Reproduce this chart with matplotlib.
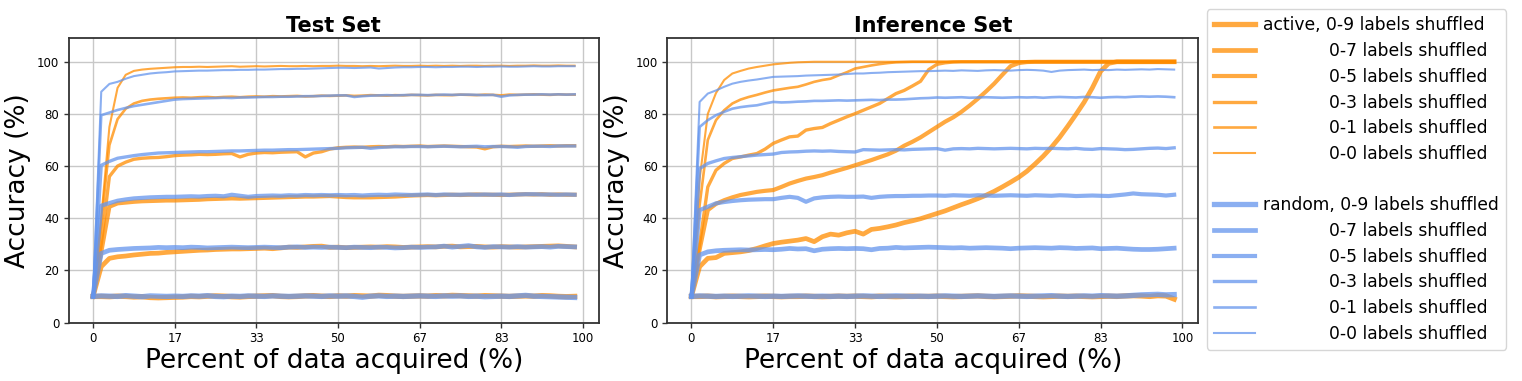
import matplotlib
matplotlib.use('Agg')
import matplotlib.pyplot as plt
from matplotlib.lines import Line2D

# ---------------- data ----------------
tick_pos = [0, 10, 20, 30, 40, 50, 60]
tick_labels = ['0', '17', '33', '50', '67', '83', '100']
shuffles = ['0-9', '0-7', '0-5', '0-3', '0-1', '0-0']
panel_titles = ['Test Set', 'Inference Set']

# Test set, active
test_active_09 = [10, 10, 9.9, 10.1, 10, 9.8, 9.9, 9.6, 9.5, 9.6, 9.7, 9.8, 10, 9.9, 10.1, 10.2, 10.1, 9.9, 9.8, 10,
                  10.1, 10.2, 10.3, 10, 9.9, 10, 10.2, 10.3, 10.1, 10, 10.2, 10.1, 10.3, 10.2, 10.1, 10.4, 10.3, 10.1, 10, 10.1,
                  10.2, 10.1, 10.3, 10.2, 10.4, 10.3, 10.2, 10.1, 10.3, 10.2, 10.1, 10, 10.1, 10.2, 10.1, 10.3, 10.2, 10, 9.9, 10]
test_active_07 = [10, 21.4, 24.6, 25.2, 25.5, 25.9, 26.2, 26.5, 26.6, 26.9, 27.1, 27.3, 27.5, 27.7, 27.8, 28, 28.1, 28.2, 28.2, 28.3,
                  28.4, 28.5, 28.3, 28.6, 28.9, 28.8, 29, 29.2, 29.3, 28.8, 28.9, 28.7, 28.8, 28.9, 29, 28.9, 29.1, 29, 28.8, 28.9,
                  29, 29.1, 29, 29.2, 29.3, 29, 29.1, 29.2, 29, 28.9, 29.1, 29, 28.9, 29, 29.1, 29.2, 29.3, 29.4, 29.2, 29]
test_active_05 = [10, 27, 44.4, 45.7, 46, 46.3, 46.5, 46.6, 46.7, 46.8, 46.8, 46.9, 47, 47.1, 47.3, 47.4, 47.5, 47.6, 47.5, 47.6,
                  47.7, 47.8, 47.9, 48, 48.1, 48.2, 48.3, 48.3, 48.4, 48.5, 48.3, 48.1, 48, 48, 48, 48.1, 48.2, 48.3, 48.5, 48.7,
                  48.8, 48.9, 48.8, 48.9, 49, 48.9, 49, 49.1, 49, 49, 48.9, 49, 49.1, 49.2, 49.1, 49.2, 49, 49.1, 49, 49]
test_active_03 = [10, 30, 56, 60, 61.5, 62.6, 63, 63.2, 63.3, 63.6, 64, 64.2, 64.3, 64.5, 64.4, 64.5, 64.7, 64.8, 63.5, 64.5,
                  65, 65.2, 65.1, 65.3, 65.4, 65.5, 63.5, 65, 65.5, 66.5, 67, 67.2, 67.3, 67.2, 67.4, 67.5, 67.4, 67.6, 67.5, 67.6,
                  67.7, 67.5, 67.6, 67.7, 67.6, 67.5, 67.4, 67.3, 66.6, 67.4, 67.6, 67.5, 67.6, 67.7, 67.6, 67.7, 67.8, 67.7, 67.8, 67.8]
test_active_01 = [10, 38, 68, 78, 82, 84, 85, 85.5, 85.8, 86, 86.2, 86.3, 86.2, 86.4, 86.5, 86.3, 86.5, 86.6, 86.4, 86.6,
                  86.7, 86.6, 86.8, 86.7, 86.8, 86.9, 86.7, 86.8, 87, 86.9, 87, 87.1, 86.9, 87, 87.2, 87.1, 87, 87.2, 87.1, 87.3,
                  87.2, 87.1, 87.3, 87.2, 87.2, 87.4, 87.3, 87.2, 87.4, 87.3, 87.1, 87.4, 87.3, 87.4, 87.5, 87.4, 87.3, 87.5, 87.4, 87.4]
test_active_00 = [10, 40, 75, 90, 95, 96.5, 97, 97.3, 97.5, 97.7, 97.9, 98, 98, 98.1, 98, 98.1, 98.2, 98.3, 98.1, 98.2,
                  98.3, 98.2, 98.3, 98.4, 98.3, 98.3, 98.4, 98.3, 98.4, 98.4, 98.5, 98.4, 98.4, 98.3, 98.4, 98.3, 98.4, 98.5, 98.4, 98.4,
                  98.5, 98.4, 98.5, 98.4, 98.5, 98.4, 98.5, 98.5, 98.4, 98.5, 98.5, 98.4, 98.5, 98.5, 98.6, 98.5, 98.5, 98.6, 98.5, 98.5]

# Test set, random
test_random_09 = [10, 10.2, 10.1, 10, 10.3, 10.1, 9.9, 10.2, 10.1, 10, 10.1, 10, 10.2, 10.1, 10.3, 10, 9.9, 10.1, 10, 10.2,
                  10.1, 10, 10.2, 10.1, 10, 10.1, 10.2, 10.1, 10, 10.2, 10.1, 10.2, 10, 9.7, 10.1, 10.2, 10, 10.1, 10, 10.1,
                  10.2, 10.1, 10, 10.2, 10.1, 10.2, 10, 10.1, 9.9, 10, 10.1, 10, 10.2, 10.4, 10.1, 10, 9.9, 9.8, 9.7, 9.6]
test_random_07 = [10, 26.5, 27.7, 28, 28.2, 28.4, 28.5, 28.6, 28.8, 28.7, 28.8, 28.7, 28.9, 28.8, 28.6, 28.7, 28.8, 28.9, 28.8, 28.7,
                  28.8, 28.9, 28.8, 28.7, 28.9, 29, 28.8, 28.9, 28.8, 28.9, 28.8, 28.7, 28.9, 28.8, 28.7, 28.9, 28.8, 28.6, 28.7, 28.9,
                  28.8, 28.9, 29, 29.3, 28.9, 29.2, 29.5, 29, 28.8, 29.1, 29, 28.9, 29.1, 28.9, 29, 29.1, 28.9, 29.2, 29.1, 29]
test_random_05 = [10, 44.8, 45.8, 46.7, 47.2, 47.6, 47.8, 48, 48.1, 48.2, 48.2, 48.3, 48.4, 48.3, 48.5, 48.6, 48.4, 49, 48.6, 48.2,
                  48.5, 48.6, 48.7, 48.6, 48.8, 48.7, 48.9, 48.8, 48.9, 48.8, 48.9, 48.8, 48.9, 48.7, 48.9, 49, 48.9, 49.1, 49, 48.9,
                  49, 49.1, 48.9, 49.1, 49, 49, 49.1, 49, 49.1, 49, 49.1, 48.9, 49.1, 49.2, 49.2, 49.1, 49.1, 49, 49.1, 49]
test_random_03 = [10, 60.3, 61.8, 63, 63.5, 64, 64.4, 64.7, 65, 65.1, 65.2, 65.3, 65.4, 65.5, 65.5, 65.6, 65.7, 65.8, 65.8, 65.9,
                  66, 66.1, 66.1, 66.2, 66.3, 66.3, 66.4, 66.5, 66.6, 66.7, 66.8, 67, 67.1, 67.2, 66.8, 67.1, 67.3, 67.4, 67.4, 67.5,
                  67.5, 67.4, 67.5, 67.6, 67.5, 67.4, 67.5, 67.6, 67.4, 67.5, 67.5, 67.4, 67.2, 67.5, 67.6, 67.6, 67.5, 67.7, 67.7, 67.7]
test_random_01 = [10, 79.5, 80.5, 81.5, 82.3, 83, 83.5, 84, 84.5, 85, 85.5, 85.7, 85.8, 85.9, 86, 86.1, 86.2, 86.1, 86.3, 86.3,
                  86.4, 86.5, 86.5, 86.6, 86.6, 86.7, 86.8, 86.8, 86.9, 87, 87.1, 87.1, 86.5, 86.8, 87, 87.1, 87.2, 87.1, 87.2, 87.3,
                  87.3, 87.2, 87.3, 87.4, 87.3, 87.4, 87.4, 87.3, 87.2, 87.3, 86.6, 87.1, 87.3, 87.4, 87.4, 87.5, 87.4, 87.5, 87.4, 87.5]
test_random_00 = [10, 88.5, 91.5, 92.3, 93.5, 94.5, 95, 95.5, 95.8, 96, 96.3, 96.4, 96.5, 96.6, 96.6, 96.7, 96.8, 96.8, 96.9, 96.9,
                  97, 97, 97.1, 97.2, 97.2, 97.3, 97.3, 97.4, 97.5, 97.6, 97.7, 97.7, 97.6, 97.7, 97.8, 97.4, 97.6, 97.8, 97.9, 97.9,
                  98, 98, 97.9, 98, 98, 98.1, 98.1, 98, 98.1, 98.1, 98.2, 98.1, 98.1, 98.2, 98.3, 98.2, 98.2, 98.3, 98.3, 98.3]

# Inference set, active
inf_active_09 = [10, 10, 10.1, 9.9, 10, 10.1, 10, 9.9, 10, 10.1, 10, 9.9, 10, 10, 10.1, 10, 9.9, 10, 10.1, 10,
                 10.1, 10, 9.9, 10.1, 10, 9.9, 10, 10.1, 10, 10, 10.1, 10, 9.9, 10, 10.1, 10.2, 10, 9.9, 10, 10.1,
                 10.2, 10.1, 10, 9.9, 10, 10.1, 10, 10.1, 10, 9.9, 10, 10.1, 10, 10.2, 10.3, 10.2, 10, 10.3, 10.2, 9.0]
inf_active_07 = [10, 21.4, 24.6, 24.9, 26.5, 26.8, 27.1, 27.6, 28.4, 29.4, 30.3, 30.8, 31.2, 31.6, 32.2, 31, 32.9, 33.9, 33.5, 34.4,
                 35, 33.9, 35.7, 36.1, 36.7, 37.4, 38.3, 39, 39.8, 40.8, 41.8, 42.8, 44, 45.2, 46.3, 47.5, 48.8, 50.3, 52, 53.8,
                 55.7, 58, 60.8, 63.8, 67.2, 71, 75.3, 79.8, 84.5, 90, 96.3, 99.4, 100, 100, 100, 100, 100, 100, 100, 100]
inf_active_05 = [10, 28, 43.1, 45.5, 46.9, 48, 48.9, 49.5, 50.1, 50.5, 50.8, 52, 53.3, 54.3, 55.2, 55.8, 56.5, 57.5, 58.4, 59.3,
                 60.3, 61.3, 62.3, 63.4, 64.5, 65.9, 67.8, 69.3, 71, 73, 75, 77, 78.7, 80.8, 83.2, 85.8, 88.6, 91.6, 95, 98.3,
                 99.5, 99.9, 100, 100, 100, 100, 100, 100, 100, 100, 100, 100, 100, 100, 100, 100, 100, 100, 100, 100]
inf_active_03 = [10, 30, 52, 58.4, 61, 62.9, 63.5, 64.2, 64.8, 66.5, 68.7, 70, 71.2, 71.5, 73.8, 74.4, 74.8, 76.3, 77.6, 78.9,
                 80.1, 81.4, 82.7, 84, 85.9, 87.8, 89, 90.7, 92.5, 97, 99, 99.6, 99.9, 100, 100, 100, 100, 100, 100, 100,
                 100, 100, 100, 100, 100, 100, 100, 100, 100, 100, 100, 100, 100, 100, 100, 100, 100, 100, 100, 100]
inf_active_01 = [10, 45, 70, 77.6, 81.4, 84, 85.5, 86.5, 87.3, 88.2, 89, 89.5, 90, 90.4, 91.3, 92.3, 93, 93.5, 94.8, 96,
                 97.4, 98, 98.6, 99.1, 99.5, 99.8, 99.9, 100, 100, 100, 100, 100, 100, 100, 100, 100, 100, 100, 100, 100,
                 100, 100, 100, 100, 100, 100, 100, 100, 100, 100, 100, 100, 100, 100, 100, 100, 100, 100, 100, 100]
inf_active_00 = [10, 55, 80, 88, 93, 95.5, 96.5, 97.4, 98, 98.5, 99, 99.3, 99.6, 99.8, 99.9, 100, 100, 100, 100, 100,
                 100, 100, 100, 100, 100, 100, 100, 100, 100, 100, 100, 100, 100, 100, 100, 100, 100, 100, 100, 100,
                 100, 100, 100, 100, 100, 100, 100, 100, 100, 100, 100, 100, 100, 100, 100, 100, 100, 100, 100, 100]

# Inference set, random
inf_random_09 = [10, 10.2, 10.1, 10, 10.1, 10, 10.1, 10.2, 10.1, 10, 10.1, 10, 10.1, 10.2, 10.1, 10, 10.1, 10, 10.1, 10,
                 10.1, 10.2, 10.1, 10, 10.1, 10.2, 10.1, 10, 10.1, 10, 10.1, 10.2, 10.1, 10, 10.1, 10.2, 10.1, 10, 10.1, 10.2,
                 10.1, 10, 10.1, 10.2, 10.3, 10.1, 10, 10.1, 10.2, 10.1, 10.3, 10.2, 10.1, 10.2, 10.4, 10.6, 10.7, 10.8, 10.6, 10.7]
inf_random_07 = [10, 25.9, 27.1, 27.5, 27.7, 27.8, 27.9, 27.8, 27.9, 28, 27.9, 28.1, 28.4, 28.2, 28.3, 27.5, 28.1, 28.3, 28.4, 28.3,
                 28.4, 28.3, 27.9, 28.4, 28.5, 28.8, 28.6, 28.7, 28.8, 28.9, 28.8, 28.7, 28.6, 28.7, 28.5, 28.6, 28.7, 28.6, 28.5, 28.3,
                 28.5, 28.6, 28.7, 28.6, 28.5, 28.7, 28.6, 28.4, 28.5, 28.6, 28.3, 28.4, 28.5, 28.3, 28.1, 28, 28, 28.1, 28.3, 28.5]
inf_random_05 = [10, 43.1, 44.4, 45.7, 46.2, 46.6, 46.9, 47.1, 47.2, 47.3, 47.3, 47.8, 48.2, 47.8, 46.3, 47.6, 48, 48.2, 48.3, 48.2,
                 48.2, 48.3, 47.8, 48.2, 48.4, 48.5, 48.5, 48.6, 48.6, 48.7, 48.7, 48.6, 48.8, 48.7, 48.6, 48.8, 48.7, 48.6, 48.7, 48.8,
                 48.7, 48.6, 48.8, 48.7, 48.6, 48.8, 48.7, 48.5, 48.6, 48.7, 48.6, 48.5, 48.8, 49.1, 49.5, 49.2, 49.1, 49, 48.7, 49]
inf_random_03 = [10, 59, 61, 62, 62.9, 63.3, 63.6, 63.9, 64.2, 64.4, 64.6, 65.2, 65.4, 65.5, 65.7, 65.8, 65.7, 65.8, 65.6, 65.5,
                 65.4, 66.3, 66.2, 66.1, 66.2, 66.3, 66.2, 66.4, 66.5, 66.6, 66.7, 66.1, 66.6, 66.7, 66.6, 66.8, 66.7, 66.6, 66.7, 66.8,
                 66.7, 66.6, 66.8, 66.7, 66.8, 66.7, 66.6, 66.8, 66.5, 66.4, 66.7, 66.6, 66.5, 66.3, 66.4, 66.6, 66.8, 66.9, 66.7, 67]
inf_random_01 = [10, 75, 77.6, 79.5, 80.8, 82, 82.6, 83, 83.3, 84, 84.6, 84.4, 84.5, 84.7, 84.8, 85, 85, 85.1, 85.2, 85.1,
                 85.2, 85.3, 85.4, 85.3, 85.5, 85.5, 85.6, 85.8, 86, 86.1, 86.3, 86.2, 86.3, 86.4, 86.2, 86.3, 86.4, 86.3, 86.2, 86.3,
                 86.4, 86.3, 86.4, 86.2, 86.4, 86.5, 86.4, 86.3, 86.5, 86.4, 86.2, 86.4, 86.5, 86.4, 86.6, 86.7, 86.6, 86.7, 86.6, 86.4]
inf_random_00 = [10, 84.6, 87.8, 89, 90.4, 91.6, 92.3, 92.8, 93.2, 93.7, 94.2, 94.3, 94.4, 94.5, 94.7, 94.8, 94.9, 95, 95.1, 95.3,
                 95.5, 95.5, 95.7, 95.8, 96, 96.1, 96.2, 96.3, 96.4, 96.4, 96.5, 96.6, 96.5, 96.7, 96.6, 96.5, 96.7, 96.8, 96.7, 96.6,
                 96.8, 96.9, 96.8, 96.6, 96.1, 96.6, 96.8, 96.9, 97, 96.8, 96.9, 96.8, 97, 96.9, 97, 97.1, 97, 97.2, 97.1, 97]

test_active = [test_active_09, test_active_07, test_active_05, test_active_03, test_active_01, test_active_00]
test_random = [test_random_09, test_random_07, test_random_05, test_random_03, test_random_01, test_random_00]
inf_active = [inf_active_09, inf_active_07, inf_active_05, inf_active_03, inf_active_01, inf_active_00]
inf_random = [inf_random_09, inf_random_07, inf_random_05, inf_random_03, inf_random_01, inf_random_00]

# ---------------- style ----------------
ORANGE = '#FF8C00'
BLUE = '#6495ED'
ALPHA = 0.75
widths = [3.8, 3.4, 3.0, 2.4, 1.9, 1.5]

W, H = 1522, 381
fig = plt.figure(figsize=(W / 100, H / 100), dpi=100)
plt.rcParams['font.family'] = ['DejaVu Sans']

ax_boxes = [[69 / W, 1 - 322.5 / H, 529.7 / W, 284.2 / H],
            [667.3 / W, 1 - 322.5 / H, 531 / W, 284.2 / H]]
panels = [(test_active, test_random), (inf_active, inf_random)]

for box, title, (act, rnd) in zip(ax_boxes, panel_titles, panels):
    ax = fig.add_axes(box)
    for series, lw in zip(act, widths):
        ax.plot(range(len(series)), series, color=ORANGE, lw=lw, alpha=ALPHA)
    for series, lw in zip(rnd, widths):
        ax.plot(range(len(series)), series, color=BLUE, lw=lw, alpha=ALPHA)
    ax.set_xlim(-2.95, 61.95)
    ax.set_ylim(0, 109)
    ax.set_xticks(tick_pos)
    ax.set_xticklabels(tick_labels)
    ax.set_yticks([0, 20, 40, 60, 80, 100])
    ax.tick_params(labelsize=8.5, length=3.5, width=1, color='#333333')
    ax.grid(True, color='#c8c8c8', lw=1)
    ax.set_axisbelow(True)
    for s in ax.spines.values():
        s.set_color('#333333')
        s.set_linewidth(1.3)
    ax.set_title(title, fontsize=15, fontweight='bold', pad=4.5)
    ax.set_xlabel('Percent of data acquired (%)', fontsize=19, labelpad=2)
    ax.set_ylabel('Accuracy (%)', fontsize=19, labelpad=4)

# legend
handles = []
labels = []
pad = ' ' * 12
for k, (sh, lw) in enumerate(zip(shuffles, widths)):
    handles.append(Line2D([], [], color=ORANGE, lw=lw, alpha=ALPHA))
    labels.append(('active, ' if k == 0 else pad) + sh + ' labels shuffled')
handles.append(Line2D([], [], color='none', lw=0))
labels.append(' ')
for k, (sh, lw) in enumerate(zip(shuffles, widths)):
    handles.append(Line2D([], [], color=BLUE, lw=lw, alpha=ALPHA))
    labels.append(('random, ' if k == 0 else pad) + sh + ' labels shuffled')

fig.legend(handles, labels, loc='upper left', bbox_to_anchor=(1206.7 / W, 1 - 9.3 / H),
           fontsize=12.3, frameon=True, handlelength=2.4, handletextpad=0.5,
           labelspacing=0.45, borderaxespad=0, borderpad=0.42)

fig.savefig('out.png', dpi=100)
